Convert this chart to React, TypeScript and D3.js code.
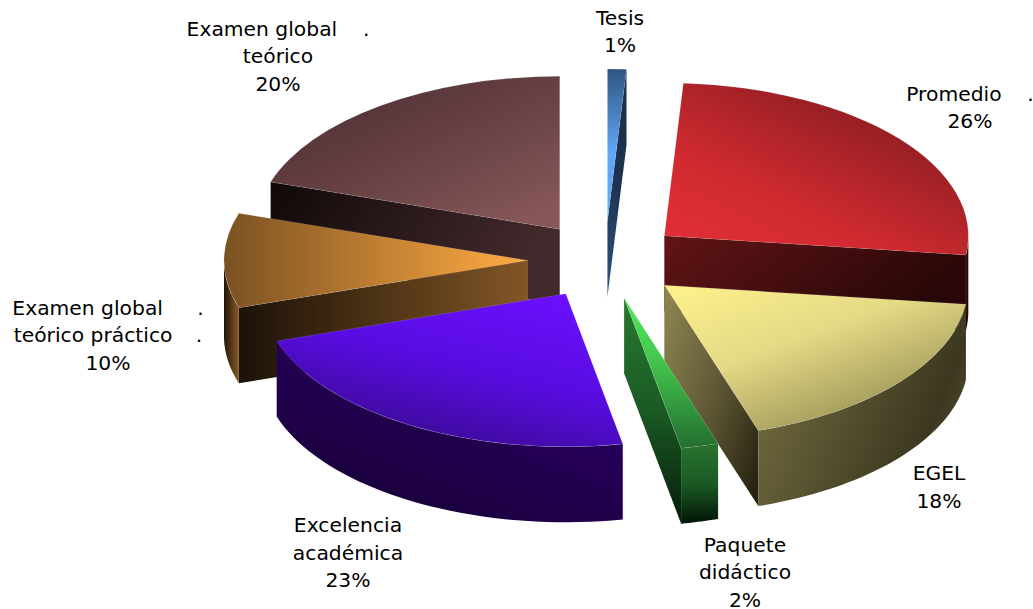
import React from "react";
import * as d3 from "d3";

const categories = ["Tesis", "Promedio", "EGEL", "Paquete didáctico", "Excelencia académica", "Examen global teórico práctico", "Examen global teórico"];
const values = [1, 26, 18, 2, 23, 10, 20];
const labelLines = [
  ["Tesis", "1%"],
  ["Promedio    .", "26%"],
  ["EGEL", "18%"],
  ["Paquete", "didáctico", "2%"],
  ["Excelencia", "académica", "23%"],
  ["Examen global     \u200A.", "teórico práctico   \u2009.", "10%"],
  ["Examen global    .", "teórico", "20%"],
];
const labelCx = [620, 970, 939, 745, 348, 108, 278];
const labelY0 = [24.5, 100.5, 480, 551.5, 532, 314.5, 35.5];

const topFill: any[] = [
  { dir: [0, 0, 0, 1], stops: [[0, "#2f5580"], [0.55, "#5fa8f6"], [1, "#5fa8f6"]] },
  { dir: [0.1, 0.9, 0.85, 0], stops: [[0, "#de2e35"], [0.3, "#cf2a30"], [1, "#781a1e"]] },
  { dir: [0, 0, 0.75, 1], stops: [[0, "#fff28c"], [0.45, "#e4d985"], [1, "#8f8a50"]] },
  { dir: [0, 0, 0, 1], stops: [[0, "#50e85c"], [0.4, "#44c84f"], [1, "#246e2e"]] },
  { dir: [0.85, 0, 0.3, 1], stops: [[0, "#6c10ff"], [0.5, "#580ce0"], [1, "#370a8a"]] },
  { dir: [0, 0, 1, 0], stops: [[0, "#7a5122"], [0.93, "#f9a641"], [1, "#ffa840"]] },
  { dir: [0.15, 0, 0.95, 0.9], stops: [[0, "#4a2c30"], [0.6, "#6c4548"], [1, "#875759"]] },
];
const radialFill: any[] = [
  { dir: [0, 0, 0, 1], stops: [[0, "#1a2d45"], [0.5, "#1d3350"], [1, "#2f5580"]] },
  { dir: [0, 0, 1, 0.4], stops: [[0, "#621416"], [1, "#270707"]] },
  { dir: [0, 0.1, 1, 0.9], stops: [[0, "#8c8450"], [0.55, "#5c5534"], [1, "#26220f"]] },
  { dir: [0, 0, 0, 1], stops: [[0, "#28782f"], [0.5, "#1a5a24"], [1, "#061c0a"]] },
  { dir: [0, 0, 0, 1], stops: [[0, "#2c0068"], [1, "#1a0040"]] },
  { dir: [0, 0, 1, 0], stops: [[0, "#1c1207"], [1, "#825626"]] },
  { dir: [0, 0, 1, 0.3], stops: [[0, "#100808"], [1, "#432a2c"]] },
];
const outerFill: any[] = [
  { dir: [0, 0, 0, 1], stops: [[0, "#1a2d45"], [1, "#2f5580"]] },
  { dir: [0, 0, 1, 0], stops: [[0, "#3a0a0c"], [1, "#270707"]] },
  { dir: [0, 0.5, 1, 0.9], stops: [[0, "#6e683e"], [0.75, "#3c3820"], [1, "#5c5734"]] },
  { dir: [0, 0, 0, 1], stops: [[0, "#2a7430"], [0.5, "#1a5a24"], [1, "#031407"]] },
  { dir: [1, 0, 0.3, 1], stops: [[0, "#2f0070"], [1, "#180038"]] },
  { dir: [0, 0, 1, 0], stops: [[0, "#201508"], [1, "#8a5c28"]] },
  { dir: [0, 0, 1, 0], stops: [[0, "#100808"], [1, "#432a2c"]] },
];

const WIDTH = 1033;
const HEIGHT = 609;
const CX = 605;
const CY = 260.5;
const RX = 304;
const TILT = 0.503;
const EXPLODE = 77;
const DEPTH = 75.5;

function Grad({ id, spec }: { id: string; spec: any }) {
  const [x1, y1, x2, y2] = spec.dir;
  return (
    <linearGradient id={id} x1={x1} y1={y1} x2={x2} y2={y2}>
      {spec.stops.map((s: any, i: number) => (
        <stop key={i} offset={s[0]} stopColor={s[1]} />
      ))}
    </linearGradient>
  );
}

export default function App() {
  const arcs = d3.pie<number>().sort(null)(values);
  const arcGen = d3.arc<any>().innerRadius(0).outerRadius(RX);
  const line = d3.line();

  const slices = arcs.map((a, i) => {
    const mid = (a.startAngle + a.endAngle) / 2;
    const ax = CX + EXPLODE * Math.sin(mid);
    const ay = CY - TILT * EXPLODE * Math.cos(mid);
    const P = (t: number, r = RX, dz = 0): [number, number] => [
      ax + r * Math.sin(t),
      ay - TILT * r * Math.cos(t) + dz,
    ];
    const walls: string[] = [];
    const wall = (t: number) =>
      line([[ax, ay], P(t), P(t, RX, DEPTH), [ax, ay + DEPTH]]) + "Z";
    if (Math.sin(a.startAngle) < -1e-6) walls.push(wall(a.startAngle));
    if (Math.sin(a.endAngle) > 1e-6) walls.push(wall(a.endAngle));
    const lo = Math.max(a.startAngle, Math.PI / 2);
    const hi = Math.min(a.endAngle, (3 * Math.PI) / 2);
    let outer: string | null = null;
    if (hi > lo) {
      const ts = d3.range(0, 41).map((k) => d3.interpolateNumber(lo, hi)(k / 40));
      const pts = [...ts.map((t) => P(t)), ...ts.slice().reverse().map((t) => P(t, RX, DEPTH))];
      outer = line(pts as [number, number][]) + "Z";
    }
    return { i, ax, ay, a, walls, outer };
  });
  const order = slices.slice().sort((p, q) => p.ay - q.ay);

  return (
    <svg
      width={WIDTH}
      height={HEIGHT}
      viewBox={`0 0 ${WIDTH} ${HEIGHT}`}
      style={{ position: "absolute", left: 0, top: 0, background: "#fff" }}
    >
      <title>{categories.join(", ")}</title>
      <defs>
        {values.map((_, i) => (
          <React.Fragment key={i}>
            <Grad id={`top${i}`} spec={topFill[i]} />
            <Grad id={`rad${i}`} spec={radialFill[i]} />
            <Grad id={`out${i}`} spec={outerFill[i]} />
          </React.Fragment>
        ))}
      </defs>
      {order.map((s) => (
        <g key={s.i}>
          {s.walls.map((d, k) => (
            <path key={k} d={d} fill={`url(#rad${s.i})`} />
          ))}
          {s.outer && <path d={s.outer} fill={`url(#out${s.i})`} />}
          <g transform={`translate(${s.ax},${s.ay}) scale(1,${TILT})`}>
            <path
              d={arcGen({ startAngle: s.a.startAngle, endAngle: s.a.endAngle }) as string}
              fill={`url(#top${s.i})`}
              stroke="#fff"
              strokeOpacity={0.25}
              strokeWidth={0.6}
            />
          </g>
        </g>
      ))}
      {labelLines.map((lines, i) => (
        <text
          key={i}
          textAnchor="middle"
          fontFamily="'DejaVu Sans', Verdana, sans-serif"
          fontSize={20.3}
          fill="#000"
          style={{ whiteSpace: "pre" }}
        >
          {lines.map((t, k) => (
            <tspan key={k} x={labelCx[i]} y={labelY0[i] + k * 27.5}>
              {t}
            </tspan>
          ))}
        </text>
      ))}
    </svg>
  );
}
